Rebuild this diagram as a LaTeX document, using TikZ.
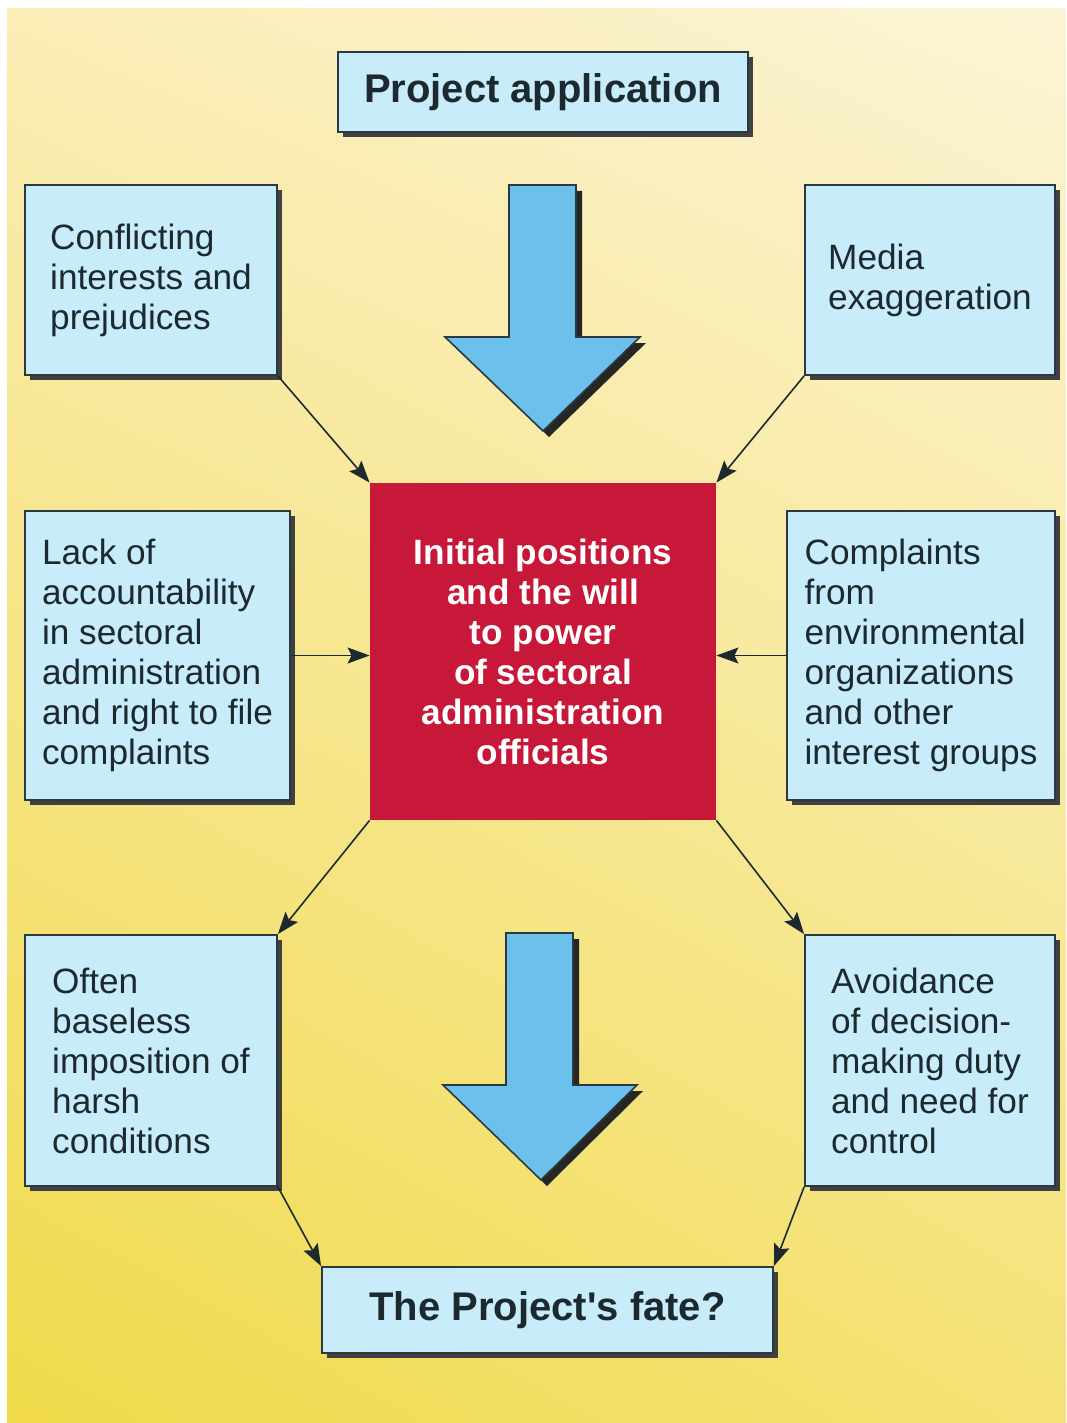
\documentclass[tikz,border=0pt]{standalone}
\usepackage{fontspec}
\setmainfont{Liberation Sans}
\usepackage{tikz}
\usetikzlibrary{arrows.meta,shadows,shadings}

\definecolor{boxblue}{HTML}{C9ECFA}
\definecolor{boxline}{HTML}{2A3A40}
\definecolor{inkdark}{HTML}{1C2A30}
\definecolor{corered}{HTML}{C8183A}
\definecolor{arrowblue}{HTML}{6CC0EC}
\definecolor{bgTL}{HTML}{FAEDB6}
\definecolor{bgTR}{HTML}{FCF4D6}
\definecolor{bgBL}{HTML}{F0DA4A}
\definecolor{bgBR}{HTML}{F4E276}

\newcommand{\bodyfont}{\fontsize{17.6pt}{20pt}\selectfont}
\newcommand{\headfont}{\fontsize{20pt}{24pt}\selectfont\bfseries}

\tikzset{
  infobox/.style={draw=boxline, line width=0.9pt, fill=boxblue,
    general shadow={fill=black!75, shadow xshift=2.5pt, shadow yshift=-2.5pt},
    text=inkdark, align=left, font=\bodyfont, inner sep=0pt},
  headbox/.style={infobox, align=center, font=\headfont},
  corebox/.style={fill=corered, text=white, align=center, inner sep=0pt,
    font=\bodyfont\bfseries},
  link/.style={draw=inkdark, line width=0.8pt,
    -{Stealth[length=11pt, width=8pt, inset=2pt]}},
  bigarrow/.style={fill=arrowblue, draw=boxline, line width=0.8pt,
    general shadow={fill=black!85, shadow xshift=3pt, shadow yshift=-3pt}}
}

\begin{document}
\begin{tikzpicture}[x=0.5pt, y=-0.5pt]
                \useasboundingbox (0,0) rectangle (1066,1423);
                \fill[white] (0,0) rectangle (1066,1423);
                % Background
                \shade[upper left=bgTL, upper right=bgTR, lower left=bgBL, lower right=bgBR]
                    (7,9) rectangle (1066,1423);

                % Start and end
                \node[headbox, minimum width=205pt, minimum height=40pt] (apply) at (543,92) {Project application};
                \node[headbox, minimum width=225.5pt, minimum height=43pt] (fate) at (547.5,1310) {The Project\textquotesingle s fate?};

                % Centre
                \node[corebox, minimum width=173pt, minimum height=168.5pt] (officials) at (543,651.5)
                    {Initial positions\\and the will\\to power\\of sectoral\\administration\\officials};

                % Influences
                \node[infobox, minimum width=126pt, minimum height=95pt] (conflict) at (151,280)
                    {Conflicting\\interests and\\prejudices};
                \node[infobox, minimum width=125pt, minimum height=95pt] (media) at (930,280)
                    {Media\\exaggeration};
                \node[infobox, minimum width=132.5pt, minimum height=144.5pt] (account) at (157.5,655.5)
                    {Lack of\\accountability\\in sectoral\\administration\\and right to file\\complaints};
                \node[infobox, minimum width=134pt, minimum height=144.5pt] (complaints) at (921,655.5)
                    {Complaints\\from\\environmental\\organizations\\and other\\interest groups};

                % Consequences
                \node[infobox, minimum width=126pt, minimum height=125.5pt] (harsh) at (151,1060.5)
                    {Often\\baseless\\imposition of\\harsh\\conditions};
                \node[infobox, minimum width=125pt, minimum height=125.5pt] (avoid) at (930,1060.5)
                    {Avoidance\\of decision-\\making duty\\and need for\\control};

                % Big arrows
                \filldraw[bigarrow] (509,185) -- (576,185) -- (576,337) -- (640,337)
                    -- (543,431) -- (445,337) -- (509,337) -- cycle;
                \filldraw[bigarrow] (506,933) -- (573,933) -- (573,1085) -- (637,1085)
                    -- (541,1180) -- (443,1085) -- (506,1085) -- cycle;

                % Links
                \draw[link] (conflict.south east) -- (officials.north west);
                \draw[link] (media.south west) -- (officials.north east);
                \draw[link] (account.east) -- (account.east -| officials.west);
                \draw[link] (complaints.west) -- (complaints.west -| officials.east);
                \draw[link] (officials.south west) -- (harsh.north east);
                \draw[link] (officials.south east) -- (avoid.north west);
                \draw[link] (harsh.south east) -- (fate.north west);
                \draw[link] (avoid.south west) -- (fate.north east);
\end{tikzpicture}
\end{document}
